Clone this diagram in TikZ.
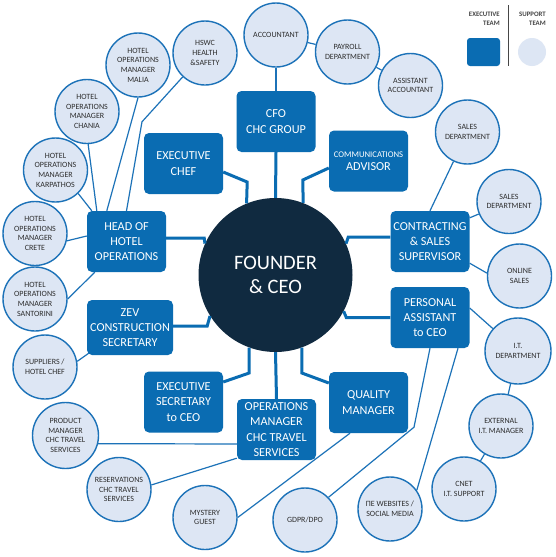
\documentclass[tikz,border=0pt]{standalone}
\usepackage{fontspec}
\setmainfont{Carlito}
\usetikzlibrary{positioning,calc}

\definecolor{execblue}{RGB}{10,108,178}
\definecolor{ceonavy}{RGB}{16,42,64}
\definecolor{supfill}{RGB}{221,230,244}
\definecolor{supline}{RGB}{28,114,184}
\definecolor{suptext}{RGB}{45,45,45}
\definecolor{legendgray}{RGB}{70,70,70}

\begin{document}
\begin{tikzpicture}[
    x=1pt,
    y=-1pt,
    hub/.style={
        circle,
        fill=ceonavy,
        text=white,
        minimum size=154pt,
        align=center,
        font=\fontsize{20.5}{24.5}\selectfont
    },
    exec/.style={
        fill=execblue,
        text=white,
        rounded corners=5pt,
        minimum width=79pt,
        minimum height=61pt,
        inner sep=1pt,
        align=center,
        font=\fontsize{12.2}{15.2}\selectfont
    },
    support/.style={
        circle,
        draw=supline,
        line width=1.4pt,
        fill=supfill,
        text=suptext,
        minimum size=64pt,
        inner sep=1pt,
        align=center,
        font=\fontsize{8}{9.7}\selectfont
    },
    bond/.style={draw=execblue, line width=3pt},
    link/.style={draw=supline, line width=1.2pt},
    legend/.style={inner sep=0pt, align=right, text=legendgray,
        font=\fontsize{6.8}{9}\selectfont\bfseries}
]

\fill[white] (0,0) rectangle (555,557);

% ============================================================
% CENTRE
% ============================================================
\node[hub] (ceo) at (275.5,275) {FOUNDER\\\& CEO};

% ============================================================
% EXECUTIVE TEAM
% ============================================================
\node[exec] (cfo) at (276,121.5) {CFO\\CHC GROUP};
\node[exec] (chef) at (183.5,163.5) {EXECUTIVE\\CHEF};
\node[exec] (comms) at (368.5,161)
    {{\fontsize{8.7}{10}\selectfont COMMUNICATIONS}\\[-2pt]ADVISOR};
\node[exec] (head) at (126.5,241.5) {HEAD OF\\HOTEL\\OPERATIONS};
\node[exec] (contract) at (430,241.5) {CONTRACTING\\\& SALES\\SUPERVISOR};
\node[exec, minimum width=86pt, minimum height=55pt] (zev) at (130,327.5)
    {ZEV\\CONSTRUCTION\\SECRETARY};
\node[exec] (pa) at (430,317.5) {PERSONAL\\ASSISTANT\\to CEO};
\node[exec] (sec) at (183.5,402) {EXECUTIVE\\SECRETARY\\to CEO};
\node[exec] (ops) at (276.5,429.5) {OPERATIONS\\MANAGER\\CHC TRAVEL\\SERVICES};
\node[exec] (quality) at (368.5,402.5) {QUALITY\\MANAGER};

\draw[bond] (cfo.south) -- (ceo.north);
\draw[bond] ([yshift=-8.5pt]chef.east) -- ++(24,10) -- (ceo.112);
\draw[bond] ([yshift=-7pt]comms.west) -- ++(-26,12) -- (ceo.69);
\draw[bond] ([yshift=3.5pt]head.east) -- ++(38,0) -- (ceo.156);
\draw[bond] ([yshift=4.5pt]contract.west) -- ++(-42,0) -- (ceo.24);
\draw[bond] ([yshift=1.5pt]zev.east) -- ++(34,0) -- (ceo.212);
\draw[bond] (pa.west) -- ++(-44,0) -- (ceo.-28);
\draw[bond] ([yshift=20pt]sec.east) -- ++(26,-9) -- (ceo.250);
\draw[bond] (ops.north) -- (ceo.south);
\draw[bond] ([yshift=19.5pt]quality.west) -- ++(-27,-10) -- (ceo.290);

% ============================================================
% SUPPORT TEAM
% ============================================================
\node[support] (acct) at (276,35) {ACCOUNTANT};
\node[support] (payroll) at (347.5,52) {PAYROLL\\DEPARTMENT};
\node[support] (asstacct) at (410.5,85.5) {ASSISTANT\\ACCOUNTANT};
\node[support] (sales1) at (467.5,132) {SALES\\DEPARTMENT};
\node[support] (sales2) at (509,201.5) {SALES\\DEPARTMENT};
\node[support] (online) at (519.5,276) {ONLINE\\SALES};
\node[support, minimum size=66pt] (itdept) at (518,351) {I.T.\\DEPARTMENT};
\node[support] (extmgr) at (501,426) {EXTERNAL\\I.T. MANAGER};
\node[support] (cnet) at (464,489) {CNET\\I.T. SUPPORT};
\node[support] (webs) at (390,509) {ΠΕ WEBSITES /\\SOCIAL MEDIA};
\node[support] (gdpr) at (305,520) {GDPR/DPO};
\node[support] (mystery) at (205,517.5) {MYSTERY\\GUEST};
\node[support] (resv) at (119,489.5) {RESERVATIONS\\CHC TRAVEL\\SERVICES};
\node[support, minimum size=66pt] (prodmgr) at (65.5,435.5)
    {PRODUCT\\MANAGER\\CHC TRAVEL\\SERVICES};
\node[support] (suppl) at (45,367) {SUPPLIERS /\\HOTEL CHEF};
\node[support] (santorini) at (35,299) {HOTEL\\OPERATIONS\\MANAGER\\SANTORINI};
\node[support] (crete) at (35,233.5) {HOTEL\\OPERATIONS\\MANAGER\\CRETE};
\node[support] (karpathos) at (55.5,170) {HOTEL\\OPERATIONS\\MANAGER\\KARPATHOS};
\node[support] (chania) at (87,111.5) {HOTEL\\OPERATIONS\\MANAGER\\CHANIA};
\node[support] (malia) at (138,65) {HOTEL\\OPERATIONS\\MANAGER\\MALIA};
\node[support] (hswc) at (205,53) {HSWC\\HEALTH\\\&SAFETY};

% finance
\draw[link] (acct) -- (cfo);
\draw[link] (acct) -- (payroll);
\draw[link] (payroll) -- (asstacct);

% sales
\draw[link] (sales1) -- (contract.north);
\draw[link] ([yshift=-7pt]contract.north east) -- (sales2);
\draw[link] ([yshift=9pt]contract.south east) -- (online.175);

% personal assistant
\draw[link] ([yshift=9.5pt]pa.east) -- (itdept);
\draw[link] (itdept) -- (extmgr);
\draw[link] (extmgr) -- (cnet);
\draw[link] ([xshift=28pt]pa.south) -- (webs.35);
\draw[link] (pa.south) -- ++(-16,79) -- (gdpr.44);

% quality, travel services, construction
\draw[link] ([xshift=-18.5pt]quality.south) -- (mystery.east);
\draw[link] ([yshift=2pt]ops.south west) -- (resv.8);
\draw[link] ([yshift=-14.5pt]ops.west) -- (prodmgr.-14);
\draw[link] ([xshift=2pt,yshift=2pt]zev.south west) -- (suppl.10);

% hotels
\draw[link] ([xshift=8pt]head.south west) -- (santorini.east);
\draw[link] ([yshift=5.5pt]head.west) -- (crete.-13);
\draw[link] ([xshift=5pt]head.north west) -- (karpathos.-46);
\draw[link] ([xshift=10pt]head.north west) -- (chania.-88);
\draw[link] ([xshift=20pt]head.north west) -- (malia.south);
\draw[link] (head.north) -- ++(15.5,-89) -- (hswc.227);

% ============================================================
% LEGEND
% ============================================================
\node[legend, anchor=north east] (exectitle) at (500,11.5) {EXECUTIVE\\TEAM};
\node[legend, anchor=north east] (suptitle) at (546,11.5) {SUPPORT\\TEAM};
\node[fill=execblue, rounded corners=3pt, minimum width=33pt,
      minimum height=28pt, inner sep=0pt] (execkey) at (483.5,52) {};
\node[circle, fill=supfill, minimum size=28pt, inner sep=0pt] (supkey) at (532,52) {};
\draw[legendgray, line width=0.8pt] (508,5) -- (508,66);

\end{tikzpicture}
\end{document}
